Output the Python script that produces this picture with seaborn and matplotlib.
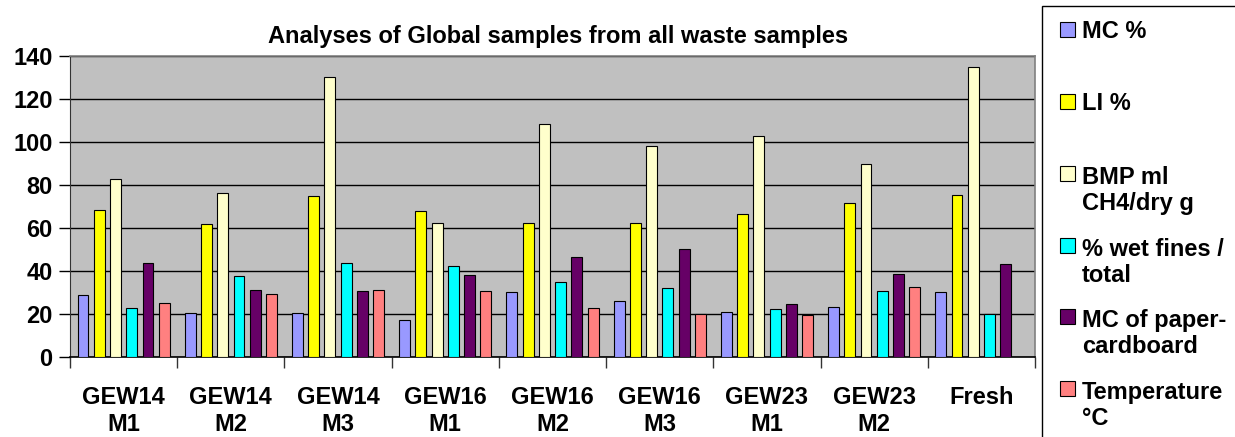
import numpy as np
import pandas as pd
import seaborn as sns
import matplotlib
matplotlib.use("Agg")
import matplotlib.pyplot as plt
from matplotlib.patches import Rectangle

# Sample groups on the x axis
samples = ["GEW14\nM1", "GEW14\nM2", "GEW14\nM3", "GEW16\nM1", "GEW16\nM2",
           "GEW16\nM3", "GEW23\nM1", "GEW23\nM2", "Fresh"]

# Measured parameters (one bar each per sample)
series = ["MC %", "LI %", "BMP ml\nCH4/dry g", "% wet fines /\ntotal",
          "MC of paper-\ncardboard", "Temperature\n°C"]

mc_pct = [29.0, 20.6, 20.6, 17.1, 30.1, 25.9, 21.1, 23.4, 30.1]
li_pct = [68.5, 61.7, 74.7, 67.9, 62.3, 62.3, 66.5, 71.8, 75.3]
bmp = [82.9, 76.4, 130.4, 62.3, 108.5, 98.1, 102.8, 89.9, 135.0]
wet_fines = [22.8, 37.8, 43.6, 42.5, 34.7, 32.2, 22.2, 30.5, 20.2]
mc_paper = [43.6, 31.2, 30.5, 38.3, 46.7, 50.4, 24.8, 38.8, 43.1]
temperature = [25.3, 29.5, 31.2, 30.5, 22.8, 20.2, 19.7, 32.7, np.nan]

y_ticks = [0, 20, 40, 60, 80, 100, 120, 140]

colors = ["#9999FF", "#FFFF00", "#FFFFCC", "#00FFFF", "#660066", "#FF8080"]

values = [mc_pct, li_pct, bmp, wet_fines, mc_paper, temperature]
df = pd.DataFrame({
    "sample": np.tile(samples, len(series)),
    "series": np.repeat(series, len(samples)),
    "value": np.concatenate([np.asarray(v, dtype=float) for v in values]),
})

W, H = 1235, 437
fig = plt.figure(figsize=(W / 100, H / 100), dpi=100)
plt.rcParams["font.family"] = ["Liberation Sans", "DejaVu Sans"]

ax = fig.add_axes([70 / W, 1 - 357 / H, (1035 - 70) / W, (357 - 56) / H])
ax.set_facecolor("#C0C0C0")

sns.barplot(data=df, x="sample", y="value", hue="series", order=samples,
            hue_order=series, palette=colors, saturation=1, width=0.91, gap=0.33,
            edgecolor="black", linewidth=0.8, errorbar=None, legend=False,
            ax=ax, zorder=3)

ax.set_xlim(-0.5, len(samples) - 0.5)
ax.set_ylim(0, 140)
ax.set_xlabel("")
ax.set_ylabel("")

# y axis: bold labels, black gridlines
ax.set_yticks(y_ticks)
ax.set_yticklabels([str(t) for t in y_ticks], fontsize=17, fontweight="bold")
ax.tick_params(axis="y", direction="out", length=8, width=1, color="black", pad=4.5)
ax.yaxis.grid(True, color="black", linewidth=1.0, zorder=1)
ax.set_axisbelow(True)

# x axis: tick marks between groups, labels centred under groups
ax.set_xticks(np.arange(-0.5, len(samples), 1.0))
ax.set_xticklabels([])
ax.set_xticks(np.arange(len(samples)), minor=True)
ax.set_xticklabels(samples, minor=True, fontsize=17, fontweight="bold")
ax.tick_params(axis="x", which="major", direction="out", length=8, width=1, color="#333333")
ax.tick_params(axis="x", which="minor", length=0, pad=21)

for side in ("top", "right"):
    ax.spines[side].set_color("#808080")
    ax.spines[side].set_linewidth(1.2)
ax.spines["left"].set_color("#333333")
ax.spines["bottom"].set_color("black")
ax.spines["bottom"].set_linewidth(1.2)

fig.text(558 / W, 1 - 43 / H, "Analyses of Global samples from all waste samples",
         ha="center", va="baseline", fontsize=17, fontweight="bold")

# Legend panel on the right
fig.patches.append(Rectangle((1042 / W, -0.2), 0.5, (437 - 6) / H + 0.2,
                             transform=fig.transFigure, facecolor="white",
                             edgecolor="black", linewidth=1.0, zorder=0))
line_px = 17 * 1.2 * 100 / 72
baselines = [38, 110, 182, 254, 325, 397]
for label, color, yb in zip(series, colors, baselines):
    fig.patches.append(Rectangle((1060 / W, 1 - (yb - 1) / H), 15 / W, 15 / H,
                                 transform=fig.transFigure, facecolor=color,
                                 edgecolor="black", linewidth=0.8, zorder=2))
    # multi-line labels are anchored on their last line's baseline
    n_extra = label.count("\n")
    fig.text(1082 / W, 1 - (yb + n_extra * line_px) / H, label, ha="left",
             va="baseline", fontsize=17, fontweight="bold", linespacing=1.2)

fig.savefig("out.png", dpi=100)
